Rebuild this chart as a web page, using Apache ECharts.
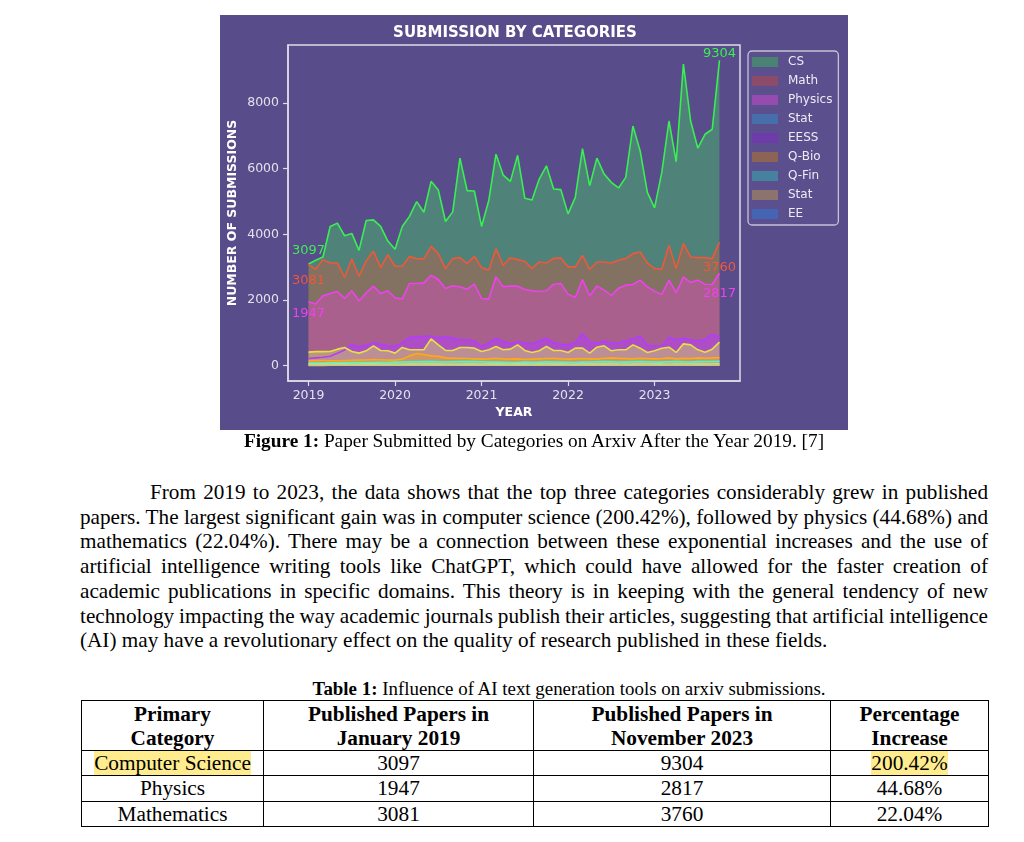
<!DOCTYPE html>
<html><head><meta charset="utf-8">
<script src="https://cdn.jsdelivr.net/npm/echarts@6/dist/echarts.min.js"></script>
<style>
html,body{margin:0;padding:0;background:#fff;}
body{width:1024px;height:842px;position:relative;overflow:hidden;font-family:"Liberation Serif","Times New Roman",serif;color:#000;}
#chart{position:absolute;left:220px;top:15px;width:628px;height:415px;background:#584c8a;}
.cap{position:absolute;text-align:center;white-space:nowrap;}
#figcap{left:80px;width:908px;top:429px;font-size:19.3px;line-height:24px;}
#tabcap{left:150px;width:838px;top:677px;font-size:18.9px;line-height:24px;}
#para{position:absolute;left:80px;top:480px;width:908px;font-size:21.2px;line-height:24.7px;}
#para div{text-align:justify;text-align-last:justify;}
#para div.first{text-indent:70px;}
#para div.tight{word-spacing:-2px;}
#para div.last{text-align-last:left;}
#tbl{position:absolute;left:81px;top:700px;width:907px;border-collapse:collapse;table-layout:fixed;font-size:21.3px;}
#tbl td,#tbl th{border:1px solid #000;padding:0;text-align:center;line-height:24px;}
#tbl th{height:49px;font-weight:bold;}
#tbl td{height:24.3px;}
.hl{background:#ffec8f;}
</style>
</head><body>
<div id="chart"></div>
<div class="cap" id="figcap"><b>Figure 1:</b> Paper Submitted by Categories on Arxiv After the Year 2019. [7]</div>
<div id="para">
<div class="first">From 2019 to 2023, the data shows that the top three categories considerably grew in published</div>
<div>papers. The largest significant gain was in computer science (200.42%), followed by physics (44.68%) and</div>
<div>mathematics (22.04%). There may be a connection between these exponential increases and the use of</div>
<div>artificial intelligence writing tools like ChatGPT, which could have allowed for the faster creation of</div>
<div>academic publications in specific domains. This theory is in keeping with the general tendency of new</div>
<div class="tight">technology impacting the way academic journals publish their articles, suggesting that artificial intelligence</div>
<div class="last">(AI) may have a revolutionary effect on the quality of research published in these fields.</div>
</div>
<div class="cap" id="tabcap"><b>Table 1:</b> Influence of AI text generation tools on arxiv submissions.</div>
<table id="tbl">
<colgroup><col style="width:182px"><col style="width:270px"><col style="width:297px"><col style="width:158px"></colgroup>
<tr><th>Primary<br>Category</th><th>Published Papers in<br>January 2019</th><th>Published Papers in<br>November 2023</th><th>Percentage<br>Increase</th></tr>
<tr><td><span class="hl">Computer Science</span></td><td>3097</td><td>9304</td><td><span class="hl">200.42%</span></td></tr>
<tr><td>Physics</td><td>1947</td><td>2817</td><td>44.68%</td></tr>
<tr><td>Mathematics</td><td>3081</td><td>3760</td><td>22.04%</td></tr>
</table>
<script>
// ---- data (monthly, Jan 2019 .. Oct 2023) ----
const legendNames = ['CS','Math','Physics','Stat','EESS','Q-Bio','Q-Fin','Stat ','EE'];
const yearTicks = ['2019','2020','2021','2022','2023'];
const yTicks = [0,2000,4000,6000,8000];

const cs = [
  3097,3212,3312,4242,4343,3959,4030,3515,4424,4444,4242,3797,
  3545,4242,4550,5000,4676,5616,5353,4393,4686,6322,5333,5323,
  4242,5030,6444,5808,5616,6410,5100,5050,5687,6090,5383,5363,
  4626,5130,6615,5484,6323,5838,5585,5414,5737,7302,6545,5282,
  4808,5888,7454,6212,9191,7454,6625,7050,7202,9304];
const math = [
  3081,2939,3232,3131,3131,2687,3252,2727,3191,3494,2990,3383,
  3030,3030,3323,3262,3252,3636,3414,2959,3262,3292,3111,3333,
  2990,2909,3565,3060,3292,3232,3181,2959,3161,3131,3272,3282,
  3010,3010,3363,2929,3161,3161,3131,3212,3262,3414,3464,3131,
  2959,2939,3666,2959,3717,3313,3292,3292,3262,3760];
const physics = [
  1947,1879,2131,2202,2262,2050,2282,1970,2222,2424,2202,2282,
  2070,2030,2505,2505,2525,2757,2626,2353,2434,2404,2333,2484,
  2050,2030,2707,2404,2424,2424,2323,2282,2262,2282,2484,2505,
  2181,2080,2626,2121,2434,2303,2141,2363,2454,2474,2606,2404,
  2272,2171,2606,2222,2707,2535,2606,2484,2474,2817];
const eess = [
  220,240,260,290,380,480,650,580,620,700,650,610,
  590,700,860,880,900,900,850,880,840,800,790,760,
  590,700,840,740,670,737,700,660,750,838,700,650,
  636,717,970,737,687,750,700,687,760,818,909,616,
  610,606,858,788,838,788,758,800,960,880];
const stat = [
  414,430,430,434,505,556,434,384,455,606,465,455,
  384,556,485,485,485,818,636,465,465,556,556,535,
  434,485,586,485,505,636,465,404,455,586,465,465,
  404,535,535,384,565,606,455,485,485,636,535,404,
  455,535,565,404,666,636,485,414,505,717];
const qbio = [
  150,160,160,150,150,160,165,170,175,190,180,170,
  170,200,300,370,340,300,290,240,230,230,220,210,
  200,210,230,210,200,210,190,200,210,220,230,210,
  200,210,220,210,200,230,240,230,220,210,230,220,
  210,220,240,210,230,220,240,230,240,250];
const qfin = [
  80,85,85,90,90,95,95,100,95,100,105,100,
  110,115,120,120,130,125,120,115,120,125,130,125,
  120,115,110,105,100,100,110,105,110,120,115,110,
  105,100,110,115,120,125,120,115,110,120,125,120,
  115,110,120,130,120,115,125,130,130,135];
const stat2 = [
  45,44,48,46,50,52,47,45,49,51,48,46,
  44,47,50,53,52,49,48,46,45,47,49,50,
  46,48,51,49,47,50,48,46,49,52,50,48,
  46,47,51,49,48,50,52,49,47,48,51,53,
  50,48,47,52,55,51,49,50,52,56];
const ee = [
  12,13,12,14,13,15,14,13,14,15,14,13,
  15,16,15,14,16,17,15,14,15,16,17,16,
  15,16,17,16,15,17,16,15,17,18,16,15,
  16,17,18,17,16,17,18,19,17,16,18,19,
  18,17,18,19,20,19,17,16,18,19];

// x position = months since Jan 2019; year ticks every 12 months
const yearVals = yearTicks.map((y, k) => k * 12);
const last = cs.length - 1;
const pad = last * 0.05;

function mk(name, values, line, area, legendColor, marks) {
  const s = {
    name: name, type: 'line', data: values.map((v, i) => [i, v]),
    showSymbol: false, symbol: 'none', silent: true,
    lineStyle: { color: line, width: 1.6 },
    areaStyle: { color: area, opacity: 0.5 },
    itemStyle: { color: legendColor },
    emphasis: { disabled: true }
  };
  if (marks) {
    s.markPoint = {
      symbol: 'circle', symbolSize: 1, silent: true,
      itemStyle: { color: 'rgba(0,0,0,0)' },
      label: { show: true, color: line, fontSize: 13, fontFamily: 'DejaVu Sans', formatter: '{c}' },
      data: marks.map(m => ({ coord: [m.i, values[m.i]], value: values[m.i], label: { offset: m.off } }))
    };
  }
  return s;
}

const chart = echarts.init(document.getElementById('chart'), null, { renderer: 'canvas' });
const axisCol = '#dcdce8';
const labCol = '#e2e2ec';
chart.setOption({
  animation: false,
  backgroundColor: '#584c8a',
  textStyle: { fontFamily: 'DejaVu Sans' },
  title: { text: 'SUBMISSION BY CATEGORIES', left: 290, top: 6, textAlign: 'center',
    textStyle: { color: '#ffffff', fontSize: 15, fontWeight: 'bold', fontFamily: 'DejaVu Sans' } },
  grid: { left: 68, top: 30, width: 452, height: 336, show: true, borderColor: axisCol, borderWidth: 1.5,
    backgroundColor: 'rgba(0,0,0,0)', outerBoundsMode: 'none' },
  legend: {
    data: legendNames, orient: 'vertical', left: 528, top: 36, icon: 'rect',
    itemWidth: 26, itemHeight: 10, itemGap: 5, padding: [4, 6, 4, 4],
    borderColor: '#c4c4d6', borderWidth: 1.3, borderRadius: 4, backgroundColor: 'rgba(92,80,142,0.85)',
    selectedMode: false,
    textStyle: { color: '#ececf4', fontSize: 12, fontFamily: 'DejaVu Sans', lineHeight: 14, padding: [0, 0, 0, 5] }
  },
  xAxis: {
    type: 'value', min: -pad, max: last + pad,
    axisLine: { show: true, onZero: false, lineStyle: { color: axisCol, width: 1.5 } }, splitLine: { show: false }, minorTick: { show: false },
    axisTick: { show: true, inside: false, length: 5, lineStyle: { color: axisCol, width: 1.2 }, customValues: yearVals },
    axisLabel: { customValues: yearVals, color: labCol, fontSize: 12.5, margin: 8, fontFamily: 'DejaVu Sans',
      formatter: v => yearTicks[Math.round(v / 12)] },
    name: 'YEAR', nameLocation: 'middle', nameGap: 25, nameMoveOverlap: false,
    nameTextStyle: { color: '#ffffff', fontWeight: 'bold', fontSize: 12.5, fontFamily: 'DejaVu Sans' }
  },
  yAxis: {
    type: 'value', min: -465, max: 9769,
    axisLine: { show: true, onZero: false, lineStyle: { color: axisCol, width: 1.5 } }, splitLine: { show: false }, minorTick: { show: false },
    axisTick: { show: true, inside: false, length: 5, lineStyle: { color: axisCol, width: 1.2 }, customValues: yTicks },
    axisLabel: { customValues: yTicks, color: labCol, fontSize: 12.5, margin: 9, fontFamily: 'DejaVu Sans',
      formatter: v => String(v) },
    name: 'NUMBER OF SUBMISSIONS', nameLocation: 'middle', nameGap: 49, nameMoveOverlap: false,
    nameTextStyle: { color: '#ffffff', fontWeight: 'bold', fontSize: 12.5, fontFamily: 'DejaVu Sans' }
  },
  series: [
    mk('CS', cs, '#38f050', '#46b866', '#4a8273', [{ i: 0, off: [0, -13] }, { i: last, off: [0, -7] }]),
    mk('Math', math, '#f0583a', '#b8604a', '#8c4b69', [{ i: 0, off: [0, 16] }, { i: last, off: [0, 25] }]),
    mk('Physics', physics, '#f040f0', '#d050b8', '#964baf', [{ i: 0, off: [0, 12] }, { i: last, off: [0, 20] }]),
    mk('EESS', eess, '#b43cff', '#b43cff', '#6e3caa'),
    mk('Stat', stat, '#e6e040', '#c8d064', '#466eaa'),
    mk('Q-Bio', qbio, '#ffaa10', '#e0a040', '#8c6455'),
    mk('Q-Fin', qfin, '#40ffd0', '#9ad0a0', '#4682a0'),
    mk('Stat ', stat2, '#d8d890', '#d0c890', '#8c736e'),
    mk('EE', ee, '#c8c878', '#c0c080', '#4664b4')
  ]
});
</script>
</body></html>
